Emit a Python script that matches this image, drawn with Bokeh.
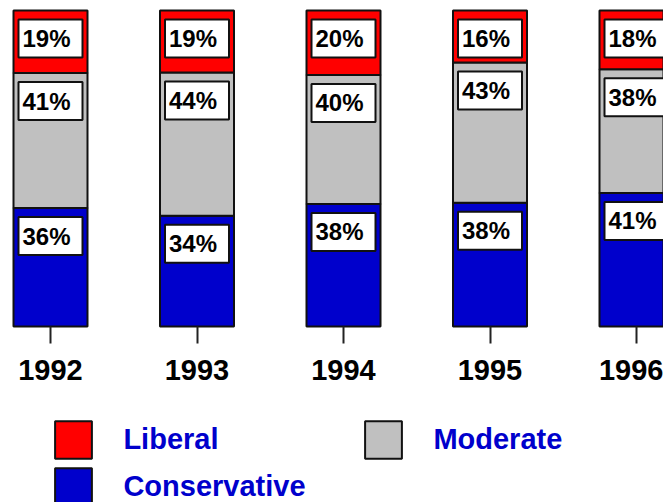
from bokeh.plotting import figure
from bokeh.models import (ColumnDataSource, Range1d, LinearAxis, FixedTicker,
                          Legend, LegendItem)
from bokeh.embed import file_html
from bokeh.resources import INLINE
from bokeh.core.properties import value

# ---- data ----
years = ["1992", "1993", "1994", "1995", "1996"]
series_names = ["Liberal", "Moderate", "Conservative"]
liberal = [19, 19, 20, 16, 18]
moderate = [41, 44, 40, 43, 38]
conservative = [36, 34, 38, 38, 41]

RED = "#FF0000"
GRAY = "#C0C0C0"
BLUE = "#0000CC"
FONT = "Liberation Sans"

n = len(years)
idx = list(range(n))
tot = [l + m + c for l, m, c in zip(liberal, moderate, conservative)]
con_top = [c / t * 100 for c, t in zip(conservative, tot)]
mod_top = [ct + m / t * 100 for ct, m, t in zip(con_top, moderate, tot)]
lib_top = [mt + l / t * 100 for mt, l, t in zip(mod_top, liberal, tot)]

W, H = 663, 502
PX_X = 146.5          # pixels per category step
PX_Y = 3.16           # pixels per percent
BASE = 326            # pixel row of the 0 line
x0 = -50 / PX_X
p = figure(width=W, height=H, output_backend="svg", toolbar_location=None,
           x_range=Range1d(x0, x0 + W / PX_X),
           y_range=Range1d(-(H - BASE) / PX_Y, 100 + 10 / PX_Y),
           min_border=0, x_axis_location=None, y_axis_location=None)
p.outline_line_color = None
p.grid.visible = False
p.background_fill_color = "white"
p.border_fill_color = "white"

src = ColumnDataSource(dict(x=idx, con_top=con_top, mod_top=mod_top, lib_top=lib_top))
bw = 74 / PX_X
common = dict(line_color="#111111", line_width=2)
r_con = p.vbar(x="x", bottom=0, top="con_top", width=bw, fill_color=BLUE, source=src, **common)
r_mod = p.vbar(x="x", bottom="con_top", top="mod_top", width=bw, fill_color=GRAY, source=src, **common)
r_lib = p.vbar(x="x", bottom="mod_top", top="lib_top", width=bw, fill_color=RED, source=src, **common)

# ---- value labels in white boxes ----
off = (9 + 19) / PX_Y   # box centre below segment top
lx, ly, lt = [], [], []
for tops, vals in ((lib_top, liberal), (mod_top, moderate), (con_top, conservative)):
    for i in idx:
        lx.append(i)
        ly.append(tops[i] - off)
        lt.append(f"{vals[i]}%")
lsrc = ColumnDataSource(dict(x=lx, y=ly, t=lt))
p.rect(x="x", y="y", width=64, height=38, width_units="screen", height_units="screen",
       fill_color="white", line_color="#111111", line_width=2, source=lsrc)
p.text(x="x", y="y", text="t", x_offset=-28, y_offset=0, text_align="left",
       text_baseline="middle", text_font=value(FONT), text_font_style="bold",
       text_font_size="24px", text_color="black", source=lsrc)

# ---- x axis with year labels ----
ax = LinearAxis(fixed_location=0, ticker=FixedTicker(ticks=idx),
                major_label_overrides={i: y for i, y in zip(idx, years)})
ax.axis_line_color = None
ax.major_tick_in = 0
ax.major_tick_out = 17
ax.major_tick_line_width = 2
ax.major_tick_line_color = "#222222"
ax.minor_tick_line_color = None
ax.major_label_text_font = FONT
ax.major_label_text_font_style = "bold"
ax.major_label_text_font_size = "29px"
ax.major_label_text_color = "black"
ax.major_label_standoff = 16
p.add_layout(ax, "below")

# ---- legend ----
legend = Legend(items=[LegendItem(label=series_names[0], renderers=[r_lib]),
                       LegendItem(label=series_names[1], renderers=[r_mod]),
                       LegendItem(label=series_names[2], renderers=[r_con])],
                location=(50.4, -8.3), orientation="horizontal", ncols=2,
                glyph_width=46, glyph_height=47, label_standoff=27, label_width=237,
                spacing=-2, padding=0, margin=0, border_line_color=None,
                background_fill_alpha=0, label_text_font=FONT,
                label_text_font_style="bold", label_text_font_size="29px",
                label_text_color=BLUE)
p.add_layout(legend, "center")

open("out.html", "w").write(file_html(p, INLINE))
